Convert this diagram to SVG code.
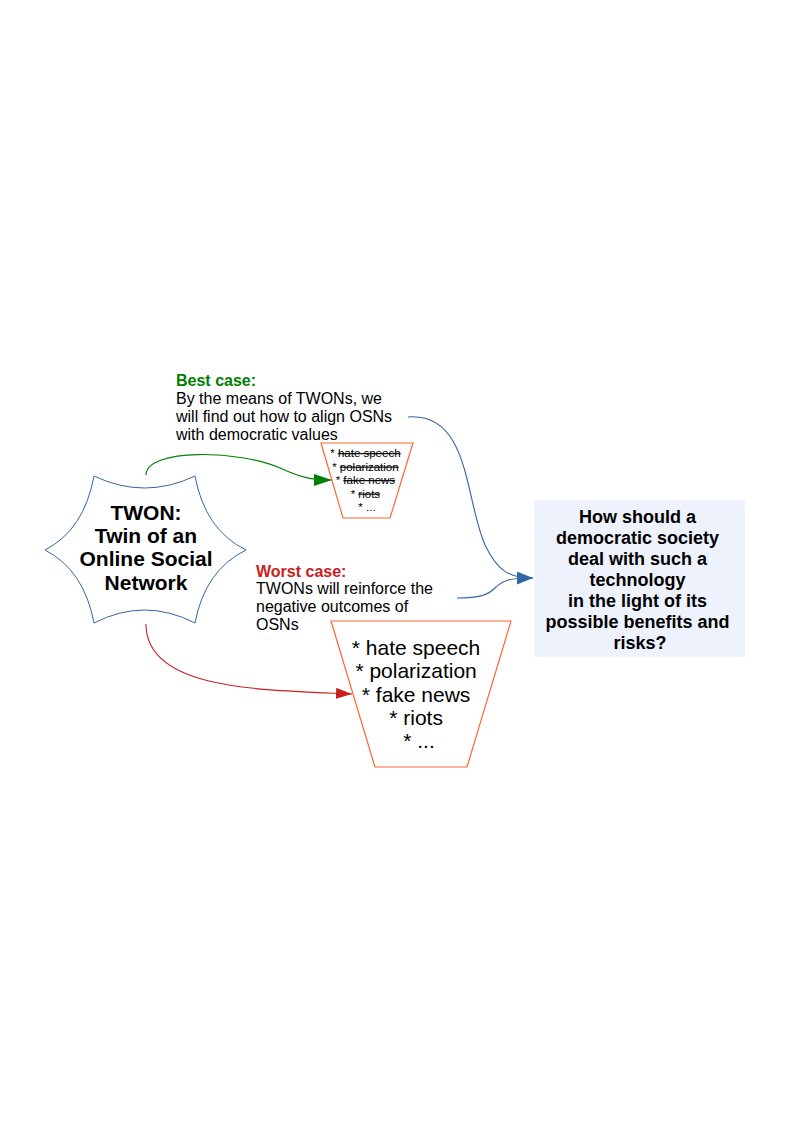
<svg xmlns="http://www.w3.org/2000/svg" width="794" height="1123" viewBox="0 0 794 1123">
<style>
text{font-family:"Liberation Sans",Arial,sans-serif;fill:#000}
.b{font-weight:bold}
.lbl{font-size:16px}
.big{font-size:21px}
.sm{font-size:11.5px}
.st{text-decoration:line-through}
.trap{fill:#fff;stroke:#FF6633;stroke-width:1.2}
.con{fill:none;stroke-width:1.1}
</style>
<defs>
<marker id="ag" viewBox="0 0 18 12" refX="18" refY="6" markerWidth="18" markerHeight="12" markerUnits="userSpaceOnUse" orient="auto"><path d="M0,0 L18,6 L0,12 z" fill="#008000"/></marker>
<marker id="ar" viewBox="0 0 16 11" refX="16" refY="5.5" markerWidth="16" markerHeight="11" markerUnits="userSpaceOnUse" orient="auto"><path d="M0,0 L16,5.5 L0,11 z" fill="#C9211E"/></marker>
<marker id="ab" viewBox="0 0 16 13" refX="16" refY="6.5" markerWidth="16" markerHeight="13" markerUnits="userSpaceOnUse" orient="auto"><path d="M0,0 L16,6.5 L0,13 z" fill="#3465A4"/></marker>
</defs>
<rect width="794" height="1123" fill="#fff"/>

<g id="connectors">
<path class="con" stroke="#008000" d="M146,475 C146,448 240,450 280,468 C300,477 310,480 332,480" marker-end="url(#ag)"/>
<path class="con" stroke="#C9211E" d="M146,624 C146,690 260,690 352,694" marker-end="url(#ar)"/>
<path class="con" stroke="#3465A4" d="M408,417 C470,412 465,500 485,545 C498,572 510,578 533,578" marker-end="url(#ab)"/>
<path class="con" stroke="#3465A4" d="M457,598 C480,598 488,595 495,588 C503,580 510,578 533,578"/>
</g>

<g id="twon">
<path d="M94,476 Q144.5,500 195,476 Q205,530 246,550 Q205,570 195,623 Q144.5,597 94,623 Q84,570 45,550 Q84,530 94,476 z" fill="#fff" stroke="#3465A4" stroke-width="1"/>
<text class="b" font-size="21" text-anchor="middle"><tspan x="146" y="520">TWON:</tspan><tspan x="146" y="543">Twin of an</tspan><tspan x="146" y="566">Online Social</tspan><tspan x="146" y="590">Network</tspan></text>
</g>

<g id="best-case">
<text class="lbl"><tspan x="176" y="386" class="b" fill="#008000" style="fill:#008000">Best case:</tspan><tspan x="176" y="404">By the means of TWONs, we</tspan><tspan x="176" y="422">will find out how to align OSNs</tspan><tspan x="176" y="440">with democratic values</tspan></text>
</g>

<g id="small-trapezoid">
<path class="trap" d="M321,443 L413,443 L390,518 L343,518 z"/>
<text class="sm" text-anchor="middle">
<tspan x="367" y="457">* <tspan class="st">hate speech</tspan></tspan>
<tspan x="367" y="470.5">* <tspan class="st">polarization</tspan></tspan>
<tspan x="367" y="484">* <tspan class="st">fake news</tspan></tspan>
<tspan x="367" y="497.5">* <tspan class="st">riots</tspan></tspan>
<tspan x="367" y="511">* ...</tspan>
</text>
</g>

<g id="worst-case">
<text class="lbl"><tspan x="256" y="577" class="b" style="fill:#C9211E">Worst case:</tspan><tspan x="256" y="594">TWONs will reinforce the</tspan><tspan x="256" y="612">negative outcomes of</tspan><tspan x="256" y="630">OSNs</tspan></text>
</g>

<g id="big-trapezoid">
<path class="trap" d="M331,621 L511,621 L467,767 L375,767 z"/>
<text class="big" text-anchor="middle">
<tspan x="419" y="655">* hate speech</tspan>
<tspan x="419" y="678">* polarization</tspan>
<tspan x="419" y="702">* fake news</tspan>
<tspan x="419" y="725">* riots</tspan>
<tspan x="419" y="748">* ...</tspan>
</text>
</g>

<g id="question">
<rect x="534" y="500" width="211" height="157" fill="#EEF2FC"/>
<text class="b" font-size="18" text-anchor="middle">
<tspan x="640" y="523">How should a</tspan>
<tspan x="640" y="544">democratic society</tspan>
<tspan x="640" y="565">deal with such a</tspan>
<tspan x="640" y="586">technology </tspan>
<tspan x="640" y="607">in the light of its</tspan>
<tspan x="640" y="628">possible benefits and</tspan>
<tspan x="640" y="649">risks?</tspan>
</text>
</g>
</svg>
